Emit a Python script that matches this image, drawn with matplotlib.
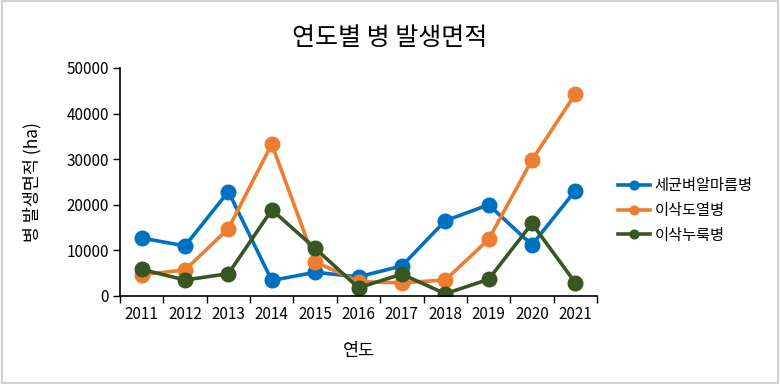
import matplotlib
matplotlib.use("Agg")
import matplotlib.pyplot as plt
from matplotlib.patches import Rectangle

plt.rcParams['font.family'] = ['Noto Sans CJK KR', 'DejaVu Sans']

years = ["2011", "2012", "2013", "2014", "2015", "2016", "2017", "2018", "2019", "2020", "2021"]
series_names = ["세균벼알마름병", "이삭도열병", "이삭누룩병"]
blight = [12700, 11000, 22900, 3400, 5200, 4200, 6600, 16500, 20000, 11200, 23100]
blast = [4700, 5700, 14800, 33300, 7500, 3150, 2900, 3500, 12400, 29800, 44300]
smut = [5850, 3500, 4900, 18900, 10450, 1800, 4800, 500, 3650, 15900, 2900]
colors = ["#0070C0", "#ED7D31", "#375623"]
yticks = [0, 10000, 20000, 30000, 40000, 50000]

fig = plt.figure(figsize=(7.8, 3.84), dpi=100)
ax = fig.add_axes([120/780, 1-296/384, (597-120)/780, (296-68)/384])

x = list(range(len(years)))
for vals, name, c in zip([blight, blast, smut], series_names, colors):
    ax.plot(x, vals, color=c, lw=2.6, marker='o', markersize=10.5, label=name)

ax.set_xlim(-0.5, len(years)-0.5)
ax.set_ylim(0, 50000)
ax.set_yticks(yticks)
ax.set_yticklabels([str(v) for v in yticks])
ax.set_xticks(x)
ax.set_xticklabels(years)
ax.set_xticks([i-0.5 for i in range(len(years)+1)], minor=True)
ax.tick_params(axis='x', which='major', length=0, pad=7, labelsize=11)
ax.tick_params(axis='x', which='minor', length=5, width=1, direction='out')
ax.tick_params(axis='y', length=5, width=1, direction='out', labelsize=11, pad=3)
for s in ['top', 'right']:
    ax.spines[s].set_visible(False)
for s in ['left', 'bottom']:
    ax.spines[s].set_linewidth(1.2)
    ax.spines[s].set_color('black')

ax.set_xlabel("연도", fontsize=12.5, labelpad=14)
ax.set_ylabel("병 발생면적 (ha)", fontsize=12.5, labelpad=18)
fig.text(0.5, 1-38/384, "연도별 병 발생면적", ha='center', va='center', fontsize=18)

leg = ax.legend(loc='center left', bbox_to_anchor=(1.015, 0.375), frameon=False,
                fontsize=11, handlelength=2.1, markerscale=0.6, labelspacing=0.5,
                handletextpad=0.3)

fig.patches.append(Rectangle((0.002, 0.003), 0.996, 0.994, transform=fig.transFigure,
                             fill=False, edgecolor='#d0d0d0', lw=1.5))

fig.savefig("out.png", dpi=100)
